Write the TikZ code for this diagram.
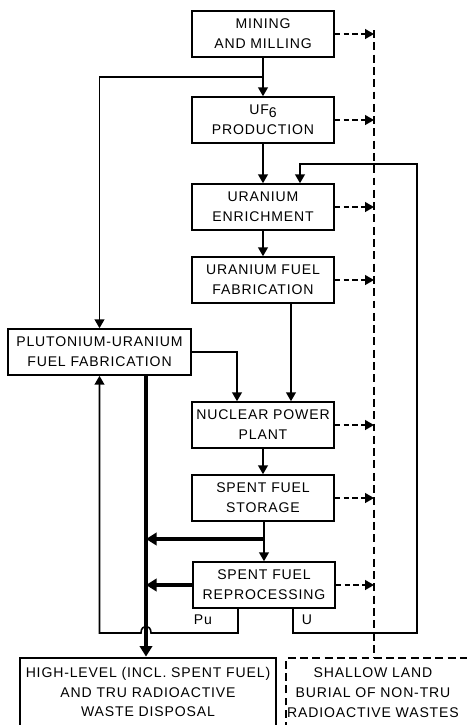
\documentclass[tikz,border=0pt]{standalone}
\usepackage{fontspec}
\setmainfont{Liberation Sans}[LetterSpace=6]
\usetikzlibrary{arrows.meta}
\tikzset{
    stage/.style={draw, line width=0.9pt, minimum width=2.84cm, minimum height=0.92cm, align=center, inner sep=1pt},
    flow/.style={line width=0.9pt, -{Triangle[length=5pt,width=5.5pt]}},
    heavy/.style={line width=2pt, -{Triangle[length=6pt,width=7pt]}},
    waste/.style={line width=0.9pt, dash pattern=on 3pt off 2pt, -{Triangle[length=5pt,width=5.5pt]}},
    wasteline/.style={line width=0.9pt, dash pattern=on 4.5pt off 2.5pt},
}

\begin{document}
\begin{tikzpicture}[x=0.02cm, y=-0.02cm, font=\fontsize{8}{11.3}\selectfont]
\useasboundingbox (0,0) rectangle (467,725);
\clip (0,0) rectangle (467,725);

\node[stage] (mining) at (263,34) {MINING\\AND MILLING};
		\node[stage] (uf6) at (263,120) {UF\raisebox{-.35ex}{6}\\PRODUCTION};
		\node[stage] (enrich) at (263,207) {URANIUM\\ENRICHMENT};
		\node[stage] (ufab) at (263,280) {URANIUM FUEL\\FABRICATION};
		\node[stage, minimum width=3.66cm] (pufab) at (99.5,352) {PLUTONIUM-URANIUM\\FUEL FABRICATION};
		\node[stage] (npp) at (263,425) {NUCLEAR POWER\\PLANT};
		\node[stage] (storage) at (263,498) {SPENT FUEL\\STORAGE};
		\node[stage] (reproc) at (264,585) {SPENT FUEL\\REPROCESSING};
		\node[draw, line width=1.6pt, minimum width=4.84cm, minimum height=1.36cm, align=center] (hlw) at (148,692) {HIGH-LEVEL (INCL. SPENT FUEL)\\AND TRU RADIOACTIVE\\WASTE DISPOSAL};
		\node[align=center] (shallow) at (373,693) {SHALLOW LAND\\BURIAL OF NON-TRU\\RADIOACTIVE WASTES};
		\draw[wasteline] (286,730) |- (470,658);
		
		\draw[flow] (mining) -- (uf6);
		\draw[flow] (uf6) -- (enrich);
		\draw[flow] (enrich) -- (ufab);
		\draw[flow] (npp.south -| storage.north) -- (storage);
		\draw[flow] (storage.south -| reproc.north) -- (reproc);
		
		\coordinate (feed) at (263,77);
		\draw[flow] (feed) -| (pufab.north);
		\draw[flow] (pufab.east) -| ([xshift=-0.52cm]npp.north);
		\draw[flow] ([xshift=0.56cm]ufab.south) -- ([xshift=0.56cm]npp.north);
		
		\coordinate (spine) at (146,0);
		\coordinate (split) at (264,539);
		\draw[heavy] (pufab.south -| spine) -- (hlw.north -| spine);
		\draw[heavy] (split) -- (split -| spine);
		\draw[heavy] (reproc.west) -- (reproc.west -| spine);
		
		\coordinate (pubend) at (238,633);
		\draw[flow] (reproc.south -| pubend) -- (pubend) -- (151,633) .. controls (151,624) and (141,624) .. (141,633) -- (pufab.south |- pubend) -- (pufab.south);
		\node (pu) at (203,620) {Pu};
		
		\coordinate (ucol) at (293,0);
		\coordinate (ubend) at (417,633);
		\coordinate (utop) at (300,164);
		\draw[flow] (reproc.south -| ucol) |- (ubend) |- (utop) -- (enrich.north -| utop);
		\node (u) at (307,620) {U};
		
		\coordinate (dtop) at (374,30);
		\coordinate (dbot) at (374,658);
		\draw[wasteline] (dtop) -- (dbot);
		\foreach \n in {mining,uf6,enrich,ufab,npp,storage,reproc}
		\draw[waste] (\n.east) -- (\n.east -| dtop);
\end{tikzpicture}
\end{document}
